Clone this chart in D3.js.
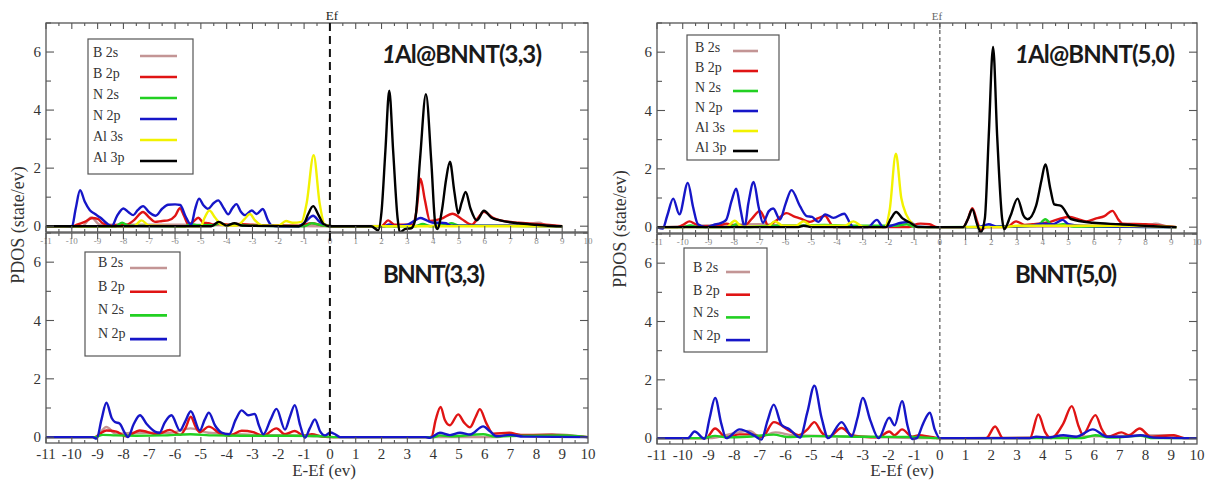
<!DOCTYPE html>
<meta charset="utf-8">
<title>PDOS</title>
<head>
<script src="https://d3js.org/d3.v7.min.js"></script>
<style>
  body { margin: 0; background: #fff; }
  text { font-family: "Liberation Serif", "Times New Roman", serif; fill: #333; }
  .title { font-family: Lato, "Open Sans", sans-serif; font-weight: bold; fill: #1a1a1a; }
</style>
</head>
<body>
<div id="chart"></div>
</body>
<script>
// orbitals, in the order the curves are drawn
var orbitals = ["B 2s", "B 2p", "N 2s", "N 2p", "Al 3s", "Al 3p"];
var orbitalColors = ["#c39595", "#e01414", "#22d022", "#1616c8", "#f2f200", "#000000"];
var yTickLabels = [0, 2, 4, 6];

// --- 1Al@BNNT(3,3) : [E-Ef, PDOS]
var al33_B2s = [[-11,0],[-9.6,0],[-9.25,0.3],[-8.9,0.05],[-7.3,0.05],[-5.8,0.05],[-3,0.02],[0,0],[6,0.02],[7.5,0.05],[8.1,0.12],[8.4,0.03],[9,0]];
var al33_B2p = [[-11,0],[-10,0],[-9.8,0.05],[-9.5,0.15],[-9.2,0.28],[-9,0.25],[-8.8,0.1],[-8.5,0.02],[-8.1,0.05],[-7.9,0.05],[-7.6,0.2],[-7.24,0.49],[-7,0.3],[-6.78,0.15],[-6.5,0.18],[-6.27,0.2],[-6,0.35],[-5.81,0.62],[-5.65,0.35],[-5.49,0.07],[-5.3,0.15],[-5.1,0.29],[-4.9,0.12],[-4.7,0.1],[-4.5,0.05],[-4.3,0.08],[-3.9,0.05],[-3.6,0.08],[-3,0.05],[-2.5,0.03],[-1.2,0.02],[-0.7,0.1],[-0.3,0.03],[0.2,0],[2,0],[2.26,0.2],[2.5,0.05],[3.2,0.05],[3.35,0.5],[3.51,1.64],[3.68,0.9],[3.88,0.18],[4.3,0.25],[4.75,0.43],[5.1,0.25],[5.5,0.05],[5.75,0.3],[5.97,0.5],[6.3,0.3],[6.6,0.2],[7.3,0.12],[7.9,0.08],[8.5,0.04],[9,0]];
var al33_N2s = [[-11,0],[-8.3,0],[-8.05,0.12],[-7.8,0.02],[-5.6,0],[-5.4,0.08],[-5.1,0.03],[-4.5,0.03],[-4.3,0.1],[-4,0.03],[-3.7,0.08],[-3.3,0.02],[-1,0],[-0.7,0.1],[-0.4,0.05],[0,0],[3.3,0],[3.6,0.08],[3.9,0],[4.5,0.04],[4.7,0.1],[5,0.02],[9,0]];
var al33_N2p = [[-11,0],[-10.3,0],[-10,-0.03],[-9.85,0.6],[-9.68,1.24],[-9.5,0.85],[-9.3,0.55],[-9.1,0.42],[-8.9,0.3],[-8.65,0.1],[-8.45,0],[-8.25,0.35],[-8,0.61],[-7.8,0.48],[-7.62,0.38],[-7.45,0.55],[-7.24,0.69],[-7,0.48],[-6.75,0.36],[-6.5,0.6],[-6.27,0.74],[-6,0.75],[-5.8,0.73],[-5.6,0.35],[-5.38,0.05],[-5.22,0.6],[-5.07,0.95],[-4.9,0.72],[-4.72,0.6],[-4.5,0.8],[-4.33,0.89],[-4.1,0.6],[-3.94,0.41],[-3.78,0.62],[-3.62,0.76],[-3.45,0.5],[-3.29,0.38],[-3.03,0.54],[-2.84,0.42],[-2.6,0.59],[-2.4,0.2],[-2.25,0.02],[-2,0],[-1.2,0],[-0.95,0.15],[-0.65,0.36],[-0.4,0.15],[-0.2,0.05],[0.1,0],[2.1,0],[2.3,0.06],[2.5,0],[3,0.05],[3.3,0.2],[3.5,0.28],[3.75,0.2],[4,0.12],[4.3,0.12],[4.5,0.1],[4.7,0.02],[9,0]];
var al33_Al3s = [[-11,0],[-7.6,0],[-7.3,0.2],[-7,0.02],[-5,0],[-4.85,0.3],[-4.67,0.54],[-4.45,0.3],[-4.2,0.05],[-3.6,0.02],[-3.3,0.25],[-3.1,0.42],[-2.9,0.2],[-2.6,0.02],[-2,0.02],[-1.7,0.18],[-1.45,0.12],[-1.1,0.15],[-0.9,0.8],[-0.63,2.45],[-0.4,0.8],[-0.2,0.05],[0.1,0],[9,0]];
var al33_Al3p = [[-11,0],[-4.6,0],[-4.3,0.15],[-4,0.02],[-3.7,0.1],[-3.4,0.02],[-1.2,0],[-1,0.1],[-0.85,0.4],[-0.65,0.69],[-0.45,0.4],[-0.25,0.08],[0,0],[1.6,0],[1.87,-0.14],[2,0.5],[2.15,2.6],[2.3,4.67],[2.45,2.6],[2.62,0.3],[2.71,-0.22],[2.9,-0.1],[3.15,-0.07],[3.3,0.2],[3.5,2.4],[3.72,4.55],[3.93,2.2],[4.08,0.1],[4.16,-0.1],[4.35,0.6],[4.5,1.6],[4.65,2.22],[4.82,1.2],[4.97,0.44],[5.1,0.8],[5.26,1.18],[5.45,0.6],[5.69,0.2],[5.97,0.53],[6.25,0.3],[6.6,0.2],[7.3,0.1],[8,0.05],[8.9,0],[9,0]];

// --- BNNT(3,3)
var bn33_B2s = [[-11,0],[-9.1,0],[-8.66,0.35],[-8.3,0.12],[-7.4,0.15],[-6.2,0.15],[-5.4,0.3],[-4.7,0.15],[-3,0.08],[-1,0.05],[0.3,0],[6.5,0],[7,0.12],[7.5,0.06],[8.6,0.1],[10,0]];
var bn33_B2p = [[-11,0],[-9.1,0],[-8.9,0.12],[-8.66,0.23],[-8.27,0.19],[-7.9,0.03],[-7.36,0.23],[-6.7,0.1],[-6.2,0.25],[-5.8,0.08],[-5.6,0.3],[-5.39,0.7],[-5.2,0.35],[-5.04,0.17],[-4.69,0.36],[-4.26,0.13],[-3.9,0.05],[-3.42,0.22],[-2.97,0.17],[-2.6,0.05],[-2.07,0.3],[-1.74,0.1],[-1.36,0.21],[-1,0.05],[-0.7,0.1],[-0.3,0.02],[0.2,0],[3.8,0],[3.94,0.02],[4.1,0.6],[4.29,1.04],[4.45,0.6],[4.65,0.41],[4.97,0.78],[5.2,0.5],[5.43,0.34],[5.65,0.7],[5.81,0.96],[6.05,0.5],[6.33,0.12],[6.95,0.15],[7.4,0.08],[8.6,0.08],[9.2,0.05],[10,0]];
var bn33_N2s = [[-11,0],[-9.1,0],[-8.8,0.08],[-8.3,0.06],[-7.5,0.05],[-6.5,0.06],[-5.4,0.1],[-4.5,0.06],[-3,0.05],[-1.5,0.05],[-0.5,0.04],[0.3,0],[4,0],[4.26,0.06],[4.7,0.03],[5.94,0.1],[6.4,0.02],[7,0.04],[9.1,0.06],[10,0]];
var bn33_N2p = [[-11,0],[-9.2,0],[-9.04,-0.05],[-8.85,0.6],[-8.66,1.18],[-8.45,0.65],[-8.33,0.52],[-8.15,0.47],[-7.95,0.15],[-7.82,0],[-7.6,0.45],[-7.36,0.75],[-7.1,0.45],[-6.78,0.19],[-6.6,0.15],[-6.4,0.5],[-6.14,0.75],[-5.81,0.23],[-5.6,0.55],[-5.39,0.89],[-5.04,0.23],[-4.85,0.6],[-4.69,0.84],[-4.45,0.4],[-4.2,0.16],[-3.9,0.1],[-3.65,0.6],[-3.42,0.92],[-3.17,0.75],[-2.91,0.8],[-2.75,0.4],[-2.58,0.1],[-2.3,0.6],[-2.07,0.97],[-1.74,0.26],[-1.55,0.7],[-1.36,1.1],[-1.15,0.4],[-0.97,-0.02],[-0.78,0.3],[-0.58,0.61],[-0.38,0.2],[-0.19,0.06],[0.02,0.16],[0.2,0.1],[0.4,0],[3.7,0],[3.88,-0.02],[4.26,0.15],[4.65,0.07],[5.04,0.15],[5.43,0.09],[5.94,0.37],[6.2,0.2],[6.46,0.03],[6.98,0.08],[7.5,0.02],[10,0]];

// --- 1Al@BNNT(5,0)
var al50_B2s = [[-11,0],[-8.3,0.08],[-7,0.1],[-6,0.06],[-4.5,0.05],[-3,0.02],[0,0],[8,0.05],[8.4,0.12],[8.8,0.03],[9.2,0]];
var al50_B2p = [[-11,0],[-10.2,0],[-9.95,0.1],[-9.74,0.2],[-9.5,0.1],[-9.3,0.03],[-8.6,0.05],[-8.3,0.12],[-8,0.05],[-7.6,0.05],[-7.3,0.3],[-7,0.56],[-6.82,0.3],[-6.68,0.05],[-6.4,0.2],[-5.96,0.48],[-5.7,0.38],[-5.44,0.3],[-5.05,0.18],[-4.75,0.3],[-4.46,0.39],[-4.3,0.2],[-4.14,0],[-1.2,0],[-1,0.08],[-0.75,0.12],[-0.4,0.1],[-0.1,0],[0.9,0],[1.1,0.3],[1.26,0.65],[1.45,0.2],[1.59,-0.1],[1.8,0],[2.6,0],[2.96,0.2],[3.3,0.08],[3.6,0.1],[4.3,0.18],[4.7,0.3],[5.04,0.35],[5.35,0.28],[5.69,0.2],[6.08,0.3],[6.4,0.38],[6.71,0.56],[6.95,0.25],[7.1,0.12],[8,0.1],[8.5,0.06],[9.2,0]];
var al50_N2s = [[-11,0],[-10,0],[-9.7,0.06],[-9.4,0],[-8.2,0],[-7.9,0.1],[-7.6,0],[-6.5,0.05],[-5.3,0.05],[-4.5,0.08],[-3.7,0.05],[-1.7,0.05],[-1.3,0.1],[-1,0.02],[0,0],[3.8,0.05],[4.1,0.27],[4.4,0.05],[4.8,0.1],[5.2,0.02],[9.2,0]];
var al50_N2p = [[-11,0],[-10.78,-0.05],[-10.6,0.4],[-10.37,0.98],[-10.13,0.44],[-9.8,1.52],[-9.6,0.7],[-9.41,0.1],[-9.1,0],[-8.8,0.08],[-8.5,0.15],[-8.31,0.25],[-8.1,0.9],[-7.92,1.32],[-7.75,0.6],[-7.59,0],[-7.45,0.8],[-7.24,1.55],[-7.05,0.7],[-6.88,0.15],[-6.65,0.55],[-6.48,0.64],[-6.22,0.26],[-6,0.8],[-5.77,1.27],[-5.44,0.72],[-5.18,0.38],[-4.97,0.35],[-4.73,0.18],[-4.46,0.44],[-4.14,0.32],[-3.72,0.46],[-3.5,0.15],[-3.36,0],[-2.8,0],[-2.45,0.25],[-2.2,0],[-1.9,0.05],[-1.5,0.15],[-1.15,0.18],[-0.9,0.02],[0,0],[1.5,0],[1.9,0.1],[2.2,0.02],[3.5,0.05],[4,0.12],[4.4,0.1],[4.78,0.25],[5,0.1],[5.5,0.05],[9.2,0]];
var al50_Al3s = [[-11,0],[-8.3,0],[-7.98,0.22],[-7.7,0.02],[-6.7,0.02],[-6.42,0.2],[-6.1,0.05],[-5.6,0.05],[-5.3,0.2],[-5,0.05],[-3.7,0.05],[-3.36,0.2],[-3,0.02],[-2.15,0],[-1.95,0.6],[-1.71,2.52],[-1.5,1],[-1.3,0.42],[-1.05,0.1],[-0.85,0],[2.4,0],[3,0.05],[5,0.05],[7,0.05],[9.2,0]];
var al50_Al3p = [[-11,0],[-5.5,0],[-5.3,0.05],[-5,0],[-2.1,0],[-1.9,0.3],[-1.7,0.52],[-1.45,0.3],[-1.15,0.15],[-0.85,0],[0.9,0],[1.1,0.3],[1.26,0.61],[1.45,0.1],[1.59,-0.18],[1.75,0.3],[1.9,3.1],[2.07,6.18],[2.23,3.1],[2.42,0.3],[2.5,-0.07],[2.75,0.4],[3.02,0.98],[3.25,0.4],[3.41,0.27],[3.74,0.73],[3.95,1.6],[4.1,2.15],[4.3,1.3],[4.45,0.78],[4.71,0.73],[5.1,0.28],[5.95,0.15],[7,0.1],[8.3,0.03],[9.2,0]];

// --- BNNT(5,0)
var bn50_B2s = [[-11,0],[-9,0],[-7.4,0.25],[-7,0.05],[-6.4,0.2],[-5.7,0.1],[-3,0.05],[0,0],[7,0.08],[9,0.1],[9.5,0],[10,0]];
var bn50_B2p = [[-11,0],[-9.1,0],[-8.74,0.33],[-8.31,0.03],[-7.79,0.13],[-7.35,0.13],[-6.9,0.05],[-6.46,0.55],[-5.84,0.25],[-5.5,0.1],[-5.15,0.3],[-4.88,0.55],[-4.6,0.2],[-4.34,0.03],[-3.82,0.35],[-3.43,0.1],[-3,0.05],[-2.38,0.03],[-1.97,0.23],[-1.76,0.1],[-1.47,0.3],[-1.08,0.05],[-0.8,0.1],[-0.4,0.05],[0,0],[1.8,0],[2.15,0.4],[2.45,0],[3.5,0],[3.83,0.81],[4.1,0.2],[4.32,0],[4.8,0.5],[5.13,1.1],[5.4,0.4],[5.56,0.12],[6.05,0.79],[6.3,0.3],[6.54,0.05],[7.06,0.2],[7.35,0.1],[7.77,0.33],[8.2,0.05],[9.1,0.1],[9.5,0],[10,0]];
var bn50_N2s = [[-11,0],[-9.2,0],[-8.74,0.08],[-8.3,0.03],[-7.5,0.05],[-6.46,0.12],[-5.9,0.04],[-4.88,0.07],[-3,0.05],[-1,0.04],[0,0],[5.5,0],[6.05,0.1],[6.6,0.02],[7.8,0.08],[8.3,0],[10,0]];
var bn50_N2p = [[-11,0],[-9.8,0],[-9.54,0.23],[-9.15,-0.02],[-8.95,0.7],[-8.74,1.38],[-8.5,0.5],[-8.31,0],[-7.79,0.3],[-7.2,0.08],[-6.94,-0.05],[-6.7,0.6],[-6.46,1.15],[-6.16,0.46],[-5.84,0.3],[-5.44,0.02],[-5.15,0.9],[-4.88,1.8],[-4.6,0.7],[-4.34,0],[-3.82,0.55],[-3.43,0.07],[-3.2,0.7],[-3,1.38],[-2.7,0.6],[-2.38,0],[-1.97,0.7],[-1.76,0.44],[-1.47,1.27],[-1.25,0.4],[-1.08,-0.03],[-0.9,0],[-0.65,0.5],[-0.39,0.87],[-0.2,0.3],[0,0],[3.5,0],[3.74,0.05],[4.2,0.02],[4.8,0.1],[5.3,0.05],[5.95,0.3],[6.5,0.05],[7.2,0.05],[7.8,0.1],[8.3,0.02],[10,0]];

var svg = d3.select("#chart").append("svg")
    .attr("width", 1208)
    .attr("height", 481);

svg.append("rect").attr("width", 1208).attr("height", 481).attr("fill", "#fff");

var line = function(x, y) {
  return d3.line()
      .x(function(d) { return x(d[0]); })
      .y(function(d) { return y(d[1]); })
      .curve(d3.curveMonotoneX);
};

var clipId = 0;

function drawPlot(p) {
  var x = d3.scaleLinear().domain([-11, 10]).range([p.left, p.right]);
  var y = d3.scaleLinear().domain([-0.2, 7]).range([p.bottom, p.top]);
  var g = svg.append("g");

  clipId++;
  svg.append("clipPath").attr("id", "clip" + clipId)
    .append("rect")
      .attr("x", p.left).attr("y", p.top)
      .attr("width", p.right - p.left).attr("height", p.bottom - p.top);

  // curves
  var lines = g.append("g").attr("clip-path", "url(#clip" + clipId + ")");
  p.series.forEach(function(s, i) {
    lines.append("path")
      .datum(s)
      .attr("fill", "none")
      .attr("stroke", orbitalColors[i])
      .attr("stroke-width", 2.4)
      .attr("stroke-linejoin", "round")
      .attr("d", line(x, y));
  });

  // frame
  g.append("rect")
    .attr("x", p.left).attr("y", p.top)
    .attr("width", p.right - p.left).attr("height", p.bottom - p.top)
    .attr("fill", "none").attr("stroke", "#555").attr("stroke-width", 1.3);

  // x ticks, inward on bottom and top
  var xt = d3.range(-21, 21).map(function(k) { return k / 2 - 0.5; }).filter(function(v) { return v >= -11 && v <= 10; });
  xt.forEach(function(v) {
    var len = Number.isInteger(v) ? 6 : 3;
    g.append("line").attr("x1", x(v)).attr("x2", x(v))
      .attr("y1", p.bottom).attr("y2", p.bottom - len)
      .attr("stroke", "#555").attr("stroke-width", 1.1);
    g.append("line").attr("x1", x(v)).attr("x2", x(v))
      .attr("y1", p.top).attr("y2", p.top + len)
      .attr("stroke", "#555").attr("stroke-width", 1.1);
  });

  // y ticks, inward on left and right
  d3.range(0, 8).forEach(function(v) {
    var len = v % 2 === 0 ? 8 : 5;
    g.append("line").attr("x1", p.left).attr("x2", p.left + len)
      .attr("y1", y(v)).attr("y2", y(v))
      .attr("stroke", "#555").attr("stroke-width", 1.1);
    g.append("line").attr("x1", p.right).attr("x2", p.right - len)
      .attr("y1", y(v)).attr("y2", y(v))
      .attr("stroke", "#555").attr("stroke-width", 1.1);
  });

  g.selectAll(".ylab").data(yTickLabels).enter().append("text")
    .attr("x", p.left - 5)
    .attr("y", function(d) { return y(d) + 5; })
    .attr("text-anchor", "end")
    .style("font-size", "15px")
    .text(function(d) { return d; });

  // x tick labels: tiny for the upper plot, normal for the lower one
  g.selectAll(".xlab").data(d3.range(-11, 11)).enter().append("text")
    .attr("x", function(d) { return x(d); })
    .attr("y", p.small ? p.bottom + 12 : p.bottom + 16)
    .attr("text-anchor", "middle")
    .style("font-size", p.small ? "9px" : "15px")
    .style("fill", p.small ? "#8a8a8a" : "#333")
    .text(function(d) { return d; });

  // Fermi level
  g.append("line")
    .attr("x1", x(0)).attr("x2", x(0))
    .attr("y1", p.top).attr("y2", p.bottom)
    .attr("stroke", p.dash.color)
    .attr("stroke-width", p.dash.width)
    .attr("stroke-dasharray", p.dash.pattern);

  // title
  var t = g.append("text").attr("class", "title")
    .attr("x", p.titleX).attr("y", p.titleY)
    .style("font-size", "24px")
    .attr("textLength", p.titleLen);
  if (p.italicOne) {
    t.append("tspan").style("font-style", "italic").text("1");
  }
  t.append("tspan").text(p.title);

  // legend
  var L = p.legend;
  g.append("rect")
    .attr("x", L.x).attr("y", L.y).attr("width", L.w).attr("height", L.h)
    .attr("fill", "#fff").attr("stroke", "#555").attr("stroke-width", 1.2);
  p.series.forEach(function(s, i) {
    var ry = L.row0 + i * L.step;
    g.append("text").attr("x", L.tx).attr("y", ry)
      .style("font-size", "14px").text(orbitals[i]);
    g.append("line")
      .attr("x1", L.lx1).attr("x2", L.lx2)
      .attr("y1", ry + L.ly).attr("y2", ry + L.ly)
      .attr("stroke", orbitalColors[i]).attr("stroke-width", 2.6);
  });
}

var leftDash = {color: "#111", width: 2, pattern: "8,5"};
var rightDash = {color: "#555", width: 1.2, pattern: "4,3"};

drawPlot({left: 46, right: 588, top: 23, bottom: 232, small: true, dash: leftDash,
  series: [al33_B2s, al33_B2p, al33_N2s, al33_N2p, al33_Al3s, al33_Al3p],
  title: "Al@BNNT(3,3)", italicOne: true, titleX: 382, titleY: 63, titleLen: 160,
  legend: {x: 88, y: 39, w: 105, h: 135, tx: 93, row0: 57, step: 21, lx1: 140, lx2: 177, ly: -1}});

drawPlot({left: 46, right: 588, top: 233, bottom: 443, small: false, dash: leftDash,
  series: [bn33_B2s, bn33_B2p, bn33_N2s, bn33_N2p],
  title: "BNNT(3,3)", italicOne: false, titleX: 383, titleY: 283, titleLen: 102,
  legend: {x: 85, y: 252, w: 95, h: 104, tx: 98, row0: 267, step: 23.7, lx1: 130, lx2: 167, ly: 1}});

drawPlot({left: 657, right: 1197, top: 23, bottom: 233, small: true, dash: rightDash,
  series: [al50_B2s, al50_B2p, al50_N2s, al50_N2p, al50_Al3s, al50_Al3p],
  title: "Al@BNNT(5,0)", italicOne: true, titleX: 1015, titleY: 63, titleLen: 160,
  legend: {x: 687, y: 35, w: 92, h: 125, tx: 695, row0: 52, step: 20, lx1: 733, lx2: 758, ly: -1}});

drawPlot({left: 657, right: 1197, top: 234, bottom: 444, small: false, dash: rightDash,
  series: [bn50_B2s, bn50_B2p, bn50_N2s, bn50_N2p],
  title: "BNNT(5,0)", italicOne: false, titleX: 1015, titleY: 283, titleLen: 102,
  legend: {x: 684, y: 248, w: 83, h: 104, tx: 693, row0: 272, step: 22.7, lx1: 726, lx2: 750, ly: 0}});

// axis titles and Ef marks
svg.append("text").attr("transform", "translate(24,225) rotate(-90)")
  .attr("text-anchor", "middle").style("font-size", "18px").text("PDOS (state/ev)");
svg.append("text").attr("transform", "translate(626,229) rotate(-90)")
  .attr("text-anchor", "middle").style("font-size", "18px").text("PDOS (state/ev)");
svg.append("text").attr("x", 324).attr("y", 476)
  .attr("text-anchor", "middle").style("font-size", "17px").text("E-Ef (ev)");
svg.append("text").attr("x", 902).attr("y", 476)
  .attr("text-anchor", "middle").style("font-size", "17px").text("E-Ef (ev)");
svg.append("text").attr("x", 332).attr("y", 20)
  .attr("text-anchor", "middle").style("font-size", "13px").style("fill", "#222").text("Ef");
svg.append("text").attr("x", 937).attr("y", 20)
  .attr("text-anchor", "middle").style("font-size", "11px").style("fill", "#666").text("Ef");
</script>
